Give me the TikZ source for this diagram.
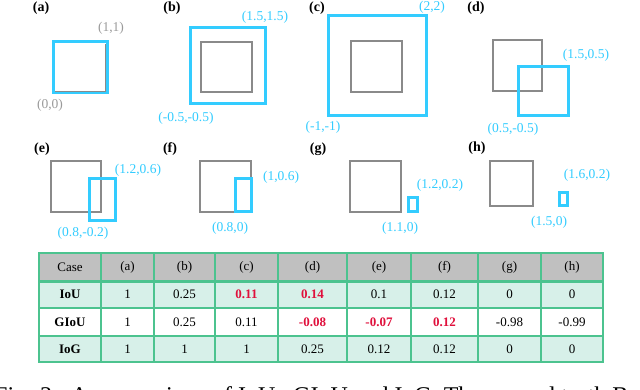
\documentclass[tikz,border=0pt]{standalone}
\usepackage{fontspec}
\setmainfont{Liberation Serif}
\definecolor{cy}{HTML}{33CCFF}
\definecolor{gt}{HTML}{8A8A8A}
\definecolor{gl}{HTML}{9A9A9A}
\definecolor{tg}{HTML}{4CC38F}
\definecolor{mint}{HTML}{D7F0E9}
\definecolor{hdr}{HTML}{C0C0C0}
\definecolor{rd}{HTML}{E0103C}
\begin{document}
\begin{tikzpicture}[x=1pt,y=-1pt,
  gtbox/.style={draw=gt, line width=2.8pt},
  predbox/.style={draw=cy, line width=3pt},
  sub/.style={font=\fontsize{14}{16}\selectfont\bfseries, inner sep=0},
  clbl/.style={text=cy, font=\fontsize{13.5}{15}\selectfont, inner sep=0},
  glbl/.style={text=gl, font=\fontsize{13.5}{15}\selectfont, inner sep=0},
  cell/.style={font=\fontsize{13}{15}\selectfont, inner sep=0},
  bcell/.style={font=\fontsize{13}{15}\selectfont\bfseries, inner sep=0},
  rcell/.style={bcell, text=rd},
  grid/.style={draw=tg, line width=2pt},
  capt/.style={font=\fontsize{24}{28}\selectfont, inner sep=0, anchor=base west}]
\useasboundingbox (0,0) rectangle (640,390);
\clip (0,0) rectangle (640,390);
% sub-figure labels
\node[sub] (la) at (41,8.5) {(a)};
\node[sub] (lb) at (172,8.5) {(b)};
\node[sub] (lc) at (317,8.5) {(c)};
\node[sub] (ld) at (476,8.5) {(d)};
\node[sub] (le) at (42,149.5) {(e)};
\node[sub] (lf) at (170,149.5) {(f)};
\node[sub] (lg) at (318,149.5) {(g)};
\node[sub] (lh) at (477,148.5) {(h)};
% (a)
\draw[predbox] (53,42) rectangle (107,93);
\draw[gt, line width=1.2pt] (105.3,44) -- (105.3,91.3) -- (55,91.3);
\node[glbl] (a1) at (111,28.5) {(1,1)};
\node[glbl] (a0) at (50,105) {(0,0)};
% (b)
\draw[predbox] (190,28) rectangle (265,104);
\draw[gtbox] (201,42) rectangle (252,92);
\node[clbl] (b1) at (265,17) {(1.5,1.5)};
\node[clbl] (b0) at (186,118) {(-0.5,-0.5)};
% (c)
\draw[predbox] (328,16) rectangle (426,116);
\draw[gtbox] (351,41) rectangle (402,92);
\node[clbl] (c1) at (432,7) {(2,2)};
\node[clbl] (c0) at (323,127) {(-1,-1)};
% (d)
\draw[gtbox] (493,40) rectangle (542,91);
\draw[predbox] (518,67) rectangle (568,116);
\node[clbl] (d1) at (586,55) {(1.5,0.5)};
\node[clbl] (d0) at (513,129) {(0.5,-0.5)};
% (e)
\draw[gtbox] (51,161) rectangle (101,212);
\draw[predbox] (89,179) rectangle (115,221);
\node[clbl] (e1) at (138,170) {(1.2,0.6)};
\node[clbl] (e0) at (83,233) {(0.8,-0.2)};
% (f)
\draw[gtbox] (200,161) rectangle (251,212);
\draw[predbox] (235,179) rectangle (251,212);
\node[clbl] (f1) at (281,177) {(1,0.6)};
\node[clbl] (f0) at (230,228) {(0.8,0)};
% (g)
\draw[gtbox] (350,161) rectangle (401,212);
\draw[predbox] (408,198) rectangle (417,212);
\node[clbl] (g1) at (440,185) {(1.2,0.2)};
\node[clbl] (g0) at (400,228) {(1.1,0)};
% (h)
\draw[gtbox] (490,161) rectangle (533,206);
\draw[predbox] (559,193) rectangle (567,206);
\node[clbl] (h1) at (587,175) {(1.6,0.2)};
\node[clbl] (h0) at (549,222) {(1.5,0)};
% table
\fill[hdr] (39,253) rectangle (603,281);
\fill[mint] (39,281) rectangle (603,308);
\fill[white] (39,308) rectangle (603,336);
\fill[mint] (39,336) rectangle (603,362);
\foreach \x in {101,154,215,278,347,411,478,541}
  \draw[grid] (\x,253) -- (\x,362);
\draw[grid] (39,308) -- (603,308);
\draw[grid] (39,336) -- (603,336);
\draw[draw=tg, line width=3pt] (39,281) -- (603,281);
\draw[grid] (39,253) rectangle (603,362);
\foreach \x/\t [count=\i] in {70/Case,127.5/(a),184.5/(b),246.5/(c),312.5/(d),379/(e),444.5/(f),509.5/(g),572/(h)}
  \node[cell] (hd\i) at (\x,267) {\t};
\foreach \x/\t/\s [count=\i] in {70/IoU/bcell,127.5/1/cell,184.5/0.25/cell,246.5/0.11/rcell,312.5/0.14/rcell,379/0.1/cell,444.5/0.12/cell,509.5/0/cell,572/0/cell}
  \node[\s] (ra\i) at (\x,294.5) {\t};
\foreach \x/\t/\s [count=\i] in {70/GIoU/bcell,127.5/1/cell,184.5/0.25/cell,246.5/0.11/cell,312.5/-0.08/rcell,379/-0.07/rcell,444.5/0.12/rcell,509.5/-0.98/cell,572/-0.99/cell}
  \node[\s] (rb\i) at (\x,322) {\t};
\foreach \x/\t/\s [count=\i] in {70/IoG/bcell,127.5/1/cell,184.5/1/cell,246.5/1/cell,312.5/0.25/cell,379/0.12/cell,444.5/0.12/cell,509.5/0/cell,572/0/cell}
  \node[\s] (rc\i) at (\x,349) {\t};
% caption (cut off by the frame)
\node[capt] (cap1) at (-6,403) {Fig. 3:\ \ A comparison of IoU,};
\node[capt] (cap2) at (293,403) {GIoU and IoG. The ground truth B};
\end{tikzpicture}
\end{document}
